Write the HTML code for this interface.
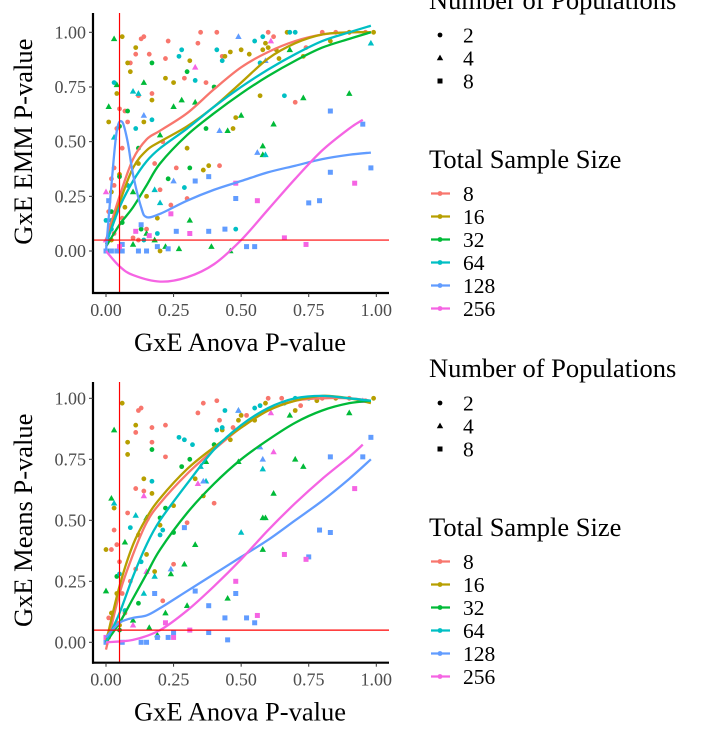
<!DOCTYPE html>
<html><head><meta charset="utf-8"><style>
body{margin:0;background:#fff;}
svg{display:block;font-family:"Liberation Serif",serif;}
.tick{fill:#4d4d4d;font-size:18px;}
.at{fill:#000;font-size:26.5px;}
.lg{fill:#000;font-size:21.5px;}
.lt{fill:#000;font-size:26.5px;}
</style></head><body>
<svg id="chart" width="704" height="737" viewBox="0 0 704 737" xmlns="http://www.w3.org/2000/svg"></svg>
<script>
const colors=["#F8766D","#B79F00","#00BA38","#00BFC4","#619CFF","#F564E3"];
const sizeLabels=["8","16","32","64","128","256"];
const popLabels=["2","4","8"];
const xTicks=[0,0.25,0.5,0.75,1];
const xTickLabels=["0.00","0.25","0.50","0.75","1.00"];
const yTicks=[0,0.25,0.5,0.75,1];
const yTickLabels=["0.00","0.25","0.50","0.75","1.00"];

// top panel points
const t8x=[0.01,0.02,0.03,0.03,0.04,0.05,0.06,0.07,0.08,0.09,0.11,0.12,0.13,0.14,0.16,0.17,0.18,0.21,0.22,0.23,0.24,0.26,0.29,0.34,0.35,0.37,0.41,0.42,0.43,0.6,0.62,0.7,0.74,0.8,0.85,0.9,0.96,0.02,0.05,0.1,0.12,0.15,0.2,0.3,0.01,0.03,0.06,0.08];
const t8y=[0.05,0.33,0.3,0.38,0.56,0.65,0.47,0.64,0.59,0.86,0.90,0.71,0.97,0.98,0.90,0.72,0.40,0.50,0.88,0.96,0.21,0.38,0.79,0.95,1.00,0.77,1.00,0.39,0.89,1.00,0.98,0.68,0.93,1.00,1.00,1.00,1.00,0.12,0.02,0.06,0.05,0.1,0.28,0.24,0.18,0.08,0.15,0.3];
const t16x=[0.01,0.02,0.04,0.06,0.08,0.09,0.11,0.14,0.17,0.2,0.22,0.25,0.3,0.31,0.36,0.38,0.44,0.46,0.47,0.5,0.53,0.57,0.58,0.59,0.63,0.67,0.73,0.83,0.9,0.99,0.03,0.05,0.12,0.15,0.19,0.48,0.6,0.64,0.02,0.07];
const t16y=[0.59,0.27,0.72,0.98,0.86,0.82,0.93,0.59,0.69,0.00,0.79,0.77,0.47,0.87,0.37,0.39,0.89,0.91,0.56,0.92,0.90,0.71,0.92,0.95,0.92,1.00,0.89,0.96,1.00,1.00,0.15,0.35,0.4,0.25,0.15,0.61,0.93,0.88,0.05,0.2];
const t32x=[0.01,0.01,0.03,0.04,0.05,0.08,0.1,0.14,0.15,0.17,0.2,0.23,0.25,0.28,0.3,0.31,0.33,0.37,0.4,0.45,0.5,0.58,0.58,0.62,0.68,0.73,0.9,0.02,0.06,0.1,0.13,0.18,0.22,0.27,0.39,0.46,0.31,0.05,0.12];
const t32y=[0.66,0.0,0.97,0.76,0.57,0.64,0.27,0.77,0.08,0.86,0.53,0.33,0.66,0.69,0.82,0.14,0.68,0.56,0.75,0.55,0.62,0.48,0.44,0.58,0.92,0.70,0.72,0.18,0.13,0.03,0.1,0.05,0.02,0.01,0.02,0.0,0.38,0.34,0.47];
const t32p=[4,2,4,4,2,2,4,4,4,2,4,2,4,4,2,4,4,2,2,4,4,4,4,4,4,4,4,2,2,4,2,4,4,4,4,4,2,2,2];
const t64x=[0.0,0.02,0.03,0.1,0.11,0.12,0.17,0.18,0.2,0.27,0.28,0.29,0.33,0.41,0.43,0.55,0.57,0.58,0.66,0.68,0.7,0.98,0.02,0.08,0.14,0.19,0.48,0.59,0.03];
const t64y=[0.14,0.14,0.77,0.73,0.56,0.72,0.60,0.28,0.22,0.89,0.92,0.29,0.78,0.92,0.87,0.96,0.86,0.98,0.71,1.0,1.0,0.95,0.1,0.3,0.05,0.08,0.1,0.44,0.52];
const t64p=[2,2,2,4,2,4,2,4,4,2,2,2,2,2,2,2,2,2,2,2,2,4,2,2,2,2,2,4,4];
const t128x=[0.0,0.01,0.02,0.04,0.06,0.13,0.19,0.23,0.26,0.33,0.38,0.38,0.44,0.48,0.52,0.55,0.75,0.79,0.83,0.83,0.95,0.98,0.12,0.15,0.25,0.49,0.14,0.06,0.59,0.56,0.42];
const t128y=[0.0,0.23,0.0,0.0,0.0,0.12,0.02,0.01,0.09,0.32,0.34,0.09,0.10,0.24,0.02,0.02,0.22,0.23,0.36,0.64,0.58,0.38,0.0,0.0,0.32,0.98,0.62,0.03,0.87,0.45,0.55];
const t128p=[8,8,8,8,8,8,8,8,8,8,8,8,8,8,8,8,8,8,8,8,8,8,8,8,4,4,4,8,4,4,4];
const t256x=[0.0,0.11,0.16,0.24,0.31,0.48,0.56,0.66,0.74,0.92,0.33,0.61,0.0,0.05];
const t256y=[0.27,0.09,0.07,0.17,0.08,0.31,0.23,0.06,0.03,0.31,0.84,0.96,0.05,0.02];
const t256p=[4,8,8,8,8,8,8,8,8,8,4,4,4,8];

// top smooth curves
const cx=[0,0.05,0.1,0.15,0.2,0.3,0.4,0.5,0.6,0.7,0.8,0.9,0.98];
const tc8=[0.05,0.25,0.42,0.51,0.55,0.63,0.74,0.84,0.91,0.96,0.99,1.0,1.0];
const tc16=[0.03,0.22,0.38,0.46,0.5,0.57,0.66,0.77,0.88,0.95,0.99,1.0,1.0];
const tc32=[0.02,0.12,0.2,0.3,0.40,0.53,0.63,0.72,0.80,0.87,0.93,0.97,1.0];
const tc64=[0.03,0.2,0.32,0.41,0.47,0.56,0.66,0.75,0.83,0.9,0.96,1.0,1.03];
const tc128x=[0.0,0.02,0.04,0.06,0.08,0.1,0.13,0.15,0.2,0.3,0.4,0.5,0.6,0.7,0.8,0.9,0.98];
const tc128=[0.0,0.3,0.55,0.59,0.5,0.35,0.2,0.155,0.17,0.23,0.28,0.32,0.36,0.39,0.42,0.44,0.45];
const tc256x=[0,0.05,0.1,0.2,0.3,0.4,0.5,0.6,0.7,0.8,0.9,0.95];
const tc256=[0,-0.07,-0.11,-0.14,-0.12,-0.06,0.05,0.19,0.33,0.46,0.56,0.6];

// bottom panel points
const b8x=[0.01,0.03,0.04,0.05,0.08,0.11,0.11,0.12,0.13,0.14,0.17,0.17,0.22,0.22,0.3,0.34,0.36,0.4,0.41,0.42,0.47,0.52,0.6,0.65,0.72,0.8,0.9,0.96,0.02,0.06,0.09,0.25,0.21,0.11,0.01,0.04,0.07];
const b8y=[0.1,0.46,0.4,0.33,0.53,0.63,0.86,0.95,0.96,0.62,0.88,0.82,0.89,0.76,0.49,0.94,0.98,0.57,0.99,0.91,0.88,0.93,1.0,1.0,0.97,1.0,1.0,0.99,0.38,0.2,0.25,0.32,0.17,0.3,0.02,0.08,0.12];
const b16x=[0.0,0.03,0.06,0.08,0.08,0.11,0.12,0.14,0.17,0.2,0.25,0.33,0.36,0.43,0.46,0.49,0.5,0.55,0.59,0.7,0.78,0.85,0.99,0.02,0.05,0.15,0.18,0.01,0.04];
const b16y=[0.38,0.55,0.98,0.82,0.77,0.89,0.44,0.67,0.61,0.48,0.56,0.67,0.60,0.87,0.83,0.91,0.93,0.91,0.98,0.95,0.99,1.0,1.0,0.12,0.07,0.36,0.29,0.03,0.2];
const b32x=[0.0,0.02,0.03,0.04,0.07,0.1,0.15,0.17,0.2,0.22,0.25,0.28,0.29,0.31,0.33,0.37,0.4,0.45,0.49,0.58,0.59,0.62,0.68,0.7,0.73,0.9,0.05,0.12,0.16,0.19,0.24,0.3,0.58,0.22];
const b32y=[0.21,0.59,0.87,0.27,0.41,0.09,0.51,0.79,0.51,0.12,0.45,0.72,0.32,0.75,0.40,0.74,0.81,0.18,0.74,0.38,0.51,0.61,0.93,0.75,0.72,0.94,0.05,0.16,0.06,0.03,0.28,0.15,0.51,0.55];
const b32p=[4,4,4,2,4,4,4,2,2,4,2,2,4,2,4,4,2,4,4,4,4,4,4,4,4,4,2,2,4,4,4,4,4,2];
const b64x=[0.03,0.05,0.09,0.11,0.13,0.17,0.18,0.2,0.21,0.27,0.29,0.32,0.35,0.37,0.41,0.43,0.44,0.49,0.5,0.55,0.57,0.58,0.66,0.7,0.75,0.02,0.07,0.14];
const b64y=[0.57,0.28,0.47,0.52,0.33,0.66,0.27,0.44,0.46,0.84,0.83,0.81,0.72,0.66,0.87,0.88,0.95,0.95,0.45,0.96,0.97,0.71,0.98,1.0,1.0,0.05,0.13,0.2];
const b64p=[4,2,2,4,2,2,4,2,2,2,2,2,4,4,2,2,2,4,4,2,2,4,2,2,2,2,2,4];
const b128x=[0.0,0.02,0.06,0.13,0.15,0.19,0.23,0.25,0.29,0.33,0.38,0.38,0.44,0.45,0.48,0.52,0.55,0.75,0.79,0.83,0.83,0.95,0.98,0.18,0.24,0.49,0.36,0.57,0.58];
const b128y=[0.0,0.05,0.0,0.0,0.0,0.02,0.02,0.04,0.47,0.21,0.15,0.04,0.10,0.01,0.20,0.10,0.08,0.35,0.46,0.45,0.76,0.76,0.84,0.20,0.30,0.95,0.66,0.8,0.75];
const b128p=[8,8,8,8,8,8,8,8,8,8,8,8,8,8,8,8,8,8,8,8,8,8,8,8,4,4,4,4,4];
const b256x=[0.0,0.1,0.15,0.22,0.25,0.31,0.48,0.56,0.66,0.74,0.92,0.34,0.62,0.61,0.14,0.95];
const b256y=[0.02,0.07,0.29,0.08,0.02,0.05,0.25,0.11,0.36,0.34,0.63,0.65,0.78,0.94,0.6,0.99];
const b256p=[8,4,4,8,8,8,8,8,8,8,8,4,4,4,4,4];

// bottom smooth curves
const bc8=[-0.03,0.2,0.36,0.49,0.57,0.69,0.79,0.88,0.95,0.99,1.0,1.0,0.99];
const bc16=[0.0,0.23,0.4,0.51,0.59,0.71,0.8,0.88,0.95,0.99,1.01,1.0,0.98];
const bc32=[0,0.08,0.18,0.28,0.38,0.53,0.65,0.75,0.83,0.9,0.95,0.98,0.99];
const bc64=[0,0.12,0.27,0.4,0.5,0.65,0.79,0.89,0.96,1.0,1.01,1.0,0.99];
const bc128=[0.02,0.08,0.1,0.11,0.14,0.21,0.28,0.35,0.42,0.5,0.58,0.67,0.75];
const bc256x=[0,0.1,0.2,0.3,0.4,0.5,0.6,0.7,0.8,0.9,0.95];
const bc256=[0.0,0.01,0.05,0.13,0.23,0.34,0.46,0.57,0.67,0.76,0.81];

const NS="http://www.w3.org/2000/svg";
const svg=document.getElementById('chart');
function el(tag,attrs,parent){const e=document.createElementNS(NS,tag);for(const k in attrs)e.setAttribute(k,attrs[k]);(parent||svg).appendChild(e);return e;}
function smooth(pts){let d="M"+pts[0][0]+","+pts[0][1];for(let i=0;i<pts.length-1;i++){const p0=pts[Math.max(0,i-1)],p1=pts[i],p2=pts[i+1],p3=pts[Math.min(pts.length-1,i+2)];const c1x=p1[0]+(p2[0]-p0[0])/6,c1y=p1[1]+(p2[1]-p0[1])/6,c2x=p2[0]-(p3[0]-p1[0])/6,c2y=p2[1]-(p3[1]-p1[1])/6;d+=" C"+c1x+","+c1y+" "+c2x+","+c2y+" "+p2[0]+","+p2[1];}return d;}
function marker(g,px,py,pop,col){
  let m;
  if(pop===2){m=el('circle',{cx:px,cy:py,r:2.4,fill:col},g);}
  else if(pop===4){m=el('polygon',{points:(px)+","+(py-3.4)+" "+(px+3.2)+","+(py+2.3)+" "+(px-3.2)+","+(py+2.3),fill:col},g);}
  else {m=el('rect',{x:px-2.5,y:py-2.5,width:5,height:5,fill:col},g);}
  return m;
}

function panel(id,cfg){
  const {top,y1,y0,xTitle,yTitle,pts,curves}=cfg;
  const X=v=>106+v*270.3;
  const Y=v=>y0-v*(y0-y1);
  const g=el('g',{});
  
  
  const clipId=id+"-clip";
  const defs=el('defs',{},g);const cp=el('clipPath',{id:clipId},defs);el('rect',{x:93,y:top,width:296,height:cfg.bottom-top},cp);
  const plot=el('g',{'clip-path':'url(#'+clipId+')'},g);
  
  
  pts.forEach((s,si)=>{
    const sg=el('g',{},plot);
    
    
    s.x.forEach((xv,i)=>{const m=marker(sg,X(xv),Y(s.y[i]),s.p?s.p[i]:s.d,colors[si]);
      
      });
  });
  curves.forEach((c,si)=>{
    const p=el('path',{d:smooth(c.x.map((xv,i)=>[X(xv),Y(c.y[i])])),fill:'none',stroke:colors[si],'stroke-width':2.3},plot);
    
    
  });
  const v=el('line',{x1:X(0.05),x2:X(0.05),y1:top,y2:cfg.bottom,stroke:'#ff0000','stroke-width':1.2},g);
  
  
  const h=el('line',{x1:93,x2:389,y1:Y(0.05),y2:Y(0.05),stroke:'#ff0000','stroke-width':1.2},g);
  
  
  const ax=el('line',{x1:92,x2:389,y1:cfg.bottom,y2:cfg.bottom,stroke:'#000','stroke-width':2.2},g);
  
  
  const ay=el('line',{x1:93,x2:93,y1:top,y2:cfg.bottom+1,stroke:'#000','stroke-width':2.2},g);
  
  
  xTicks.forEach((t,i)=>{
    el('line',{x1:X(t),x2:X(t),y1:cfg.bottom,y2:cfg.bottom+4,stroke:'#333','stroke-width':1},g);
    const tx=el('text',{x:X(t),y:cfg.bottom+23,'text-anchor':'middle',class:'tick'},g);tx.textContent=xTickLabels[i];
    
    
  });
  yTicks.forEach((t,i)=>{
    el('line',{x1:89,x2:93,y1:Y(t),y2:Y(t),stroke:'#333','stroke-width':1},g);
    const tx=el('text',{x:86,y:Y(t)+6,'text-anchor':'end',class:'tick'},g);tx.textContent=yTickLabels[i];
    
    
  });
  const xt=el('text',{x:240,y:cfg.bottom+58,'text-anchor':'middle',class:'at'},g);xt.textContent=xTitle;
  
  
  const yt=el('text',{x:0,y:0,'text-anchor':'middle',class:'at',transform:'translate(32,'+((y1+y0)/2)+') rotate(-90)'},g);yt.textContent=yTitle;
  
  
  const off=cfg.legOff;
  const lg=el('g',{},g);
  
  
  const t1=el('text',{x:429,y:off+9,class:'lt'},lg);t1.textContent='Number of Populations';
  
  
  [2,4,8].forEach((p,i)=>{const yy=off+35+i*23;marker(lg,440,yy,p,'#000');
    const t=el('text',{x:463,y:yy+7.5,class:'lg'},lg);t.textContent=popLabels[i];
    
    });
  const t2=el('text',{x:429,y:off+168,class:'lt'},lg);t2.textContent='Total Sample Size';
  
  
  sizeLabels.forEach((s,i)=>{const yy=off+193.5+i*23;
    el('line',{x1:431,x2:450,y1:yy,y2:yy,stroke:colors[i],'stroke-width':2.3},lg);
    el('circle',{cx:440,cy:yy,r:2.4,fill:colors[i]},lg);
    const t=el('text',{x:463,y:yy+7.5,class:'lg'},lg);t.textContent=s;
    
    });
}

panel('emm-panel',{top:13,bottom:293,y1:32.3,y0:251,legOff:0,
  xTitle:'GxE Anova P-value',yTitle:'GxE EMM P-value',
  pts:[{x:t8x,y:t8y,d:2},{x:t16x,y:t16y,d:2},{x:t32x,y:t32y,p:t32p},{x:t64x,y:t64y,p:t64p},{x:t128x,y:t128y,p:t128p},{x:t256x,y:t256y,p:t256p}],
  curves:[{x:cx,y:tc8},{x:cx,y:tc16},{x:cx,y:tc32},{x:cx,y:tc64},{x:tc128x,y:tc128},{x:tc256x,y:tc256}]});
panel('means-panel',{top:382,bottom:662.7,y1:398.3,y0:642.3,legOff:368,
  xTitle:'GxE Anova P-value',yTitle:'GxE Means P-value',
  pts:[{x:b8x,y:b8y,d:2},{x:b16x,y:b16y,d:2},{x:b32x,y:b32y,p:b32p},{x:b64x,y:b64y,p:b64p},{x:b128x,y:b128y,p:b128p},{x:b256x,y:b256y,p:b256p}],
  curves:[{x:cx,y:bc8},{x:cx,y:bc16},{x:cx,y:bc32},{x:cx,y:bc64},{x:cx,y:bc128},{x:bc256x,y:bc256}]});
</script>
</body></html>
